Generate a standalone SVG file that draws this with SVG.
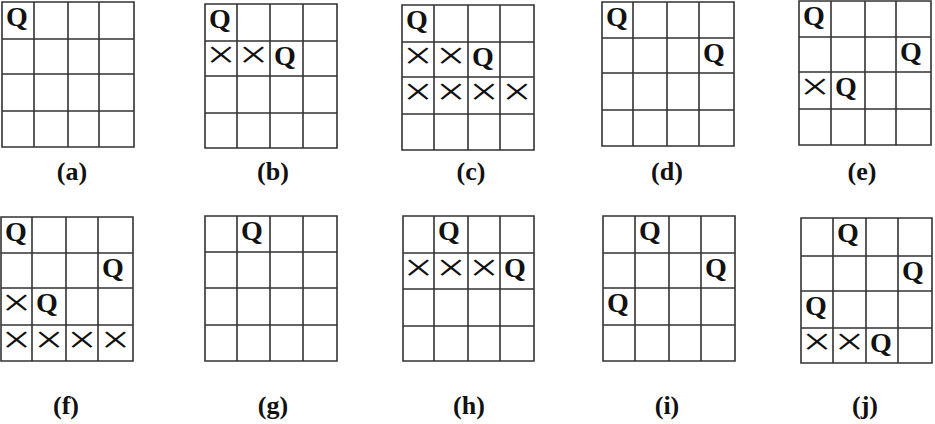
<svg xmlns="http://www.w3.org/2000/svg" width="935" height="424" viewBox="0 0 935 424">
<style>
.grid{fill:none;stroke:#333;stroke-width:1.6}
.q{font-family:"Liberation Serif","Times New Roman",serif;font-weight:bold;font-size:28px;fill:#111}
.x{font-family:"Liberation Serif","Times New Roman",serif;font-size:40px;fill:#111;text-anchor:middle}
.lbl{font-family:"Liberation Serif","Times New Roman",serif;font-weight:bold;font-size:26px;fill:#111;text-anchor:middle}
</style>
<rect width="935" height="424" fill="#fff"/>
<g id="a">
<path class="grid" d="M2 2H134V147H2Z M34 2V147 M68 2V147 M99 2V147 M2 39H134 M2 74H134 M2 111H134"/>
<text class="q" x="6" y="26">Q</text>
<text class="lbl" x="72" y="180">(a)</text>
</g>
<g id="b">
<path class="grid" d="M205 4H337V148H205Z M237 4V148 M270 4V148 M303 4V148 M205 41H337 M205 76H337 M205 113H337"/>
<text class="q" x="209" y="28">Q</text>
<text class="x" transform="translate(221 68.1) scale(1.28 1)" x="0" y="0">×</text>
<text class="x" transform="translate(253.5 68.1) scale(1.28 1)" x="0" y="0">×</text>
<text class="q" x="274" y="65">Q</text>
<text class="lbl" x="273" y="180">(b)</text>
</g>
<g id="c">
<path class="grid" d="M402 5H534V150H402Z M434 5V150 M468 5V150 M500 5V150 M402 42H534 M402 77H534 M402 114H534"/>
<text class="q" x="406" y="29">Q</text>
<text class="x" transform="translate(418 69.1) scale(1.28 1)" x="0" y="0">×</text>
<text class="x" transform="translate(451 69.1) scale(1.28 1)" x="0" y="0">×</text>
<text class="q" x="472" y="66">Q</text>
<text class="x" transform="translate(418 105.1) scale(1.28 1)" x="0" y="0">×</text>
<text class="x" transform="translate(451 105.1) scale(1.28 1)" x="0" y="0">×</text>
<text class="x" transform="translate(484 105.1) scale(1.28 1)" x="0" y="0">×</text>
<text class="x" transform="translate(517 105.1) scale(1.28 1)" x="0" y="0">×</text>
<text class="lbl" x="471" y="180">(c)</text>
</g>
<g id="d">
<path class="grid" d="M602 2H734V146H602Z M633 2V146 M667 2V146 M699 2V146 M602 38H734 M602 73H734 M602 110H734"/>
<text class="q" x="606" y="26">Q</text>
<text class="q" x="703" y="62">Q</text>
<text class="lbl" x="667" y="180">(d)</text>
</g>
<g id="e">
<path class="grid" d="M799 1H931V145H799Z M831 1V145 M865 1V145 M896 1V145 M799 37H931 M799 72H931 M799 109H931"/>
<text class="q" x="803" y="25">Q</text>
<text class="q" x="900" y="61">Q</text>
<text class="x" transform="translate(815 100.1) scale(1.28 1)" x="0" y="0">×</text>
<text class="q" x="835" y="96">Q</text>
<text class="lbl" x="862" y="180">(e)</text>
</g>
<g id="f">
<path class="grid" d="M1 217H133V361H1Z M32 217V361 M66 217V361 M98 217V361 M1 253H133 M1 288H133 M1 325H133"/>
<text class="q" x="5" y="241">Q</text>
<text class="q" x="102" y="277">Q</text>
<text class="x" transform="translate(16.5 316.1) scale(1.28 1)" x="0" y="0">×</text>
<text class="q" x="36" y="312">Q</text>
<text class="x" transform="translate(16.5 352.6) scale(1.28 1)" x="0" y="0">×</text>
<text class="x" transform="translate(49 352.6) scale(1.28 1)" x="0" y="0">×</text>
<text class="x" transform="translate(82 352.6) scale(1.28 1)" x="0" y="0">×</text>
<text class="x" transform="translate(115.5 352.6) scale(1.28 1)" x="0" y="0">×</text>
<text class="lbl" x="66" y="414">(f)</text>
</g>
<g id="g">
<path class="grid" d="M205 216H337V361H205Z M237 216V361 M270 216V361 M303 216V361 M205 252H337 M205 288H337 M205 325H337"/>
<text class="q" x="241" y="240">Q</text>
<text class="lbl" x="273" y="414">(g)</text>
</g>
<g id="h">
<path class="grid" d="M403 216H534V361H403Z M434 216V361 M468 216V361 M500 216V361 M403 253H534 M403 289H534 M403 326H534"/>
<text class="q" x="438" y="240">Q</text>
<text class="x" transform="translate(418.5 280.6) scale(1.28 1)" x="0" y="0">×</text>
<text class="x" transform="translate(451 280.6) scale(1.28 1)" x="0" y="0">×</text>
<text class="x" transform="translate(484 280.6) scale(1.28 1)" x="0" y="0">×</text>
<text class="q" x="504" y="277">Q</text>
<text class="lbl" x="469" y="414">(h)</text>
</g>
<g id="i">
<path class="grid" d="M603 216H735V361H603Z M635 216V361 M669 216V361 M701 216V361 M603 253H735 M603 288H735 M603 325H735"/>
<text class="q" x="639" y="240">Q</text>
<text class="q" x="705" y="277">Q</text>
<text class="q" x="607" y="312">Q</text>
<text class="lbl" x="667" y="414">(i)</text>
</g>
<g id="j">
<path class="grid" d="M801 218H932V363H801Z M833 218V363 M866 218V363 M898 218V363 M801 256H932 M801 291H932 M801 328H932"/>
<text class="q" x="837" y="242">Q</text>
<text class="q" x="902" y="280">Q</text>
<text class="q" x="805" y="315">Q</text>
<text class="x" transform="translate(817 355.1) scale(1.28 1)" x="0" y="0">×</text>
<text class="x" transform="translate(849.5 355.1) scale(1.28 1)" x="0" y="0">×</text>
<text class="q" x="870" y="352">Q</text>
<text class="lbl" x="865" y="414">(j)</text>
</g>
<g id="connectors"/>
</svg>
